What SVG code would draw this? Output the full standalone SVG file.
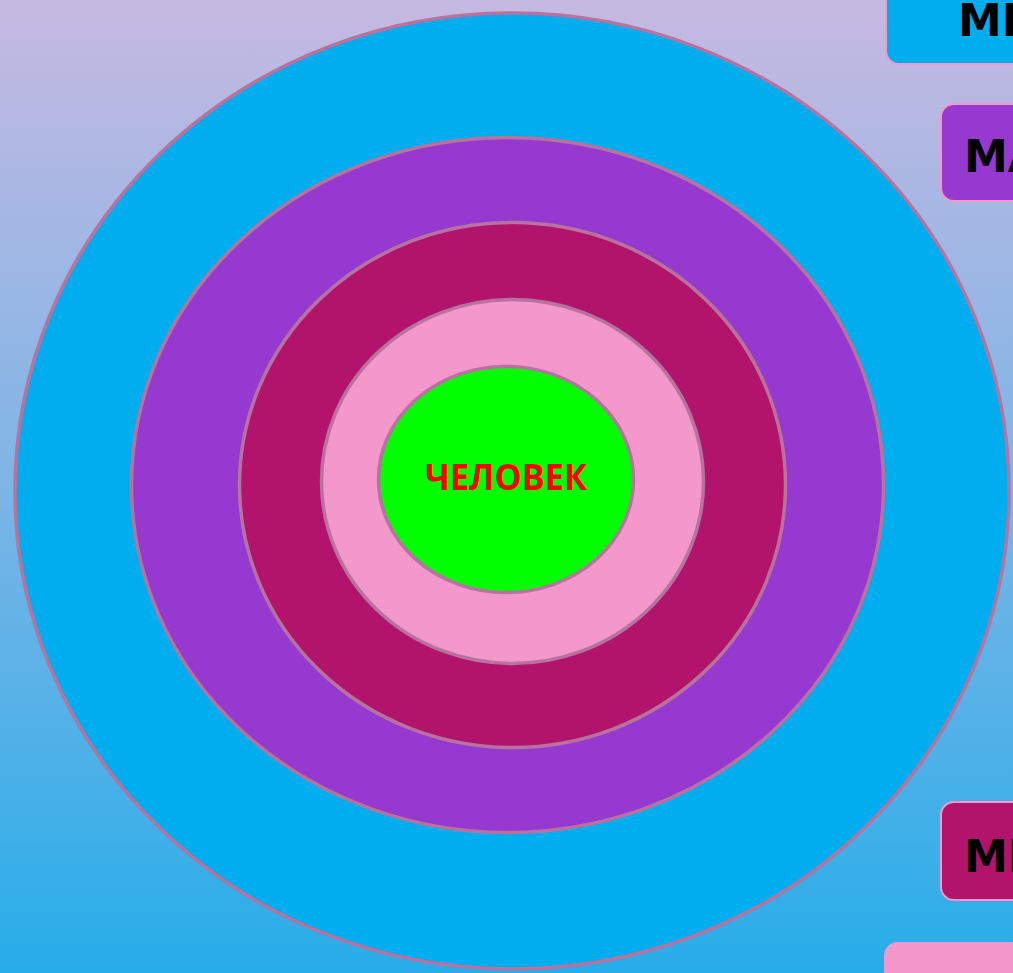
<svg xmlns="http://www.w3.org/2000/svg" width="1013" height="973" viewBox="0 0 1013 973">
<defs>
<linearGradient id="bg" x1="0" y1="0" x2="0" y2="1">
<stop offset="0" stop-color="#c6b9e1"/>
<stop offset="0.5" stop-color="#7cb5e6"/>
<stop offset="1" stop-color="#27ade9"/>
</linearGradient>
</defs>
<style>
.ring{stroke:#b8729f;stroke-width:3.5}
.box{stroke:#f497cb;stroke-width:2}
.lbl{font-family:"DejaVu Sans","Liberation Sans",sans-serif;font-weight:bold;font-size:44px;fill:#000}
.core{font-family:"Open Sans","Noto Sans",sans-serif;font-weight:bold;font-size:35px;fill:#ff0000}
</style>
<rect width="1013" height="973" fill="url(#bg)"/>
<g id="ring-outer"><ellipse class="ring" cx="512" cy="491" rx="497" ry="478" fill="#00aeef"/></g>
<g id="ring-2"><ellipse class="ring" cx="507.5" cy="485" rx="376" ry="347.5" fill="#9639d0"/></g>
<g id="ring-3"><ellipse class="ring" cx="512.5" cy="485" rx="273" ry="262.5" fill="#b2136b"/></g>
<g id="ring-4"><ellipse class="ring" cx="512.5" cy="481.5" rx="191" ry="182" fill="#f497cb"/></g>
<g id="core"><ellipse class="ring" cx="506" cy="479.5" rx="127.5" ry="113" fill="#00ff00"/>
<text class="core" x="425" y="490" textLength="162" lengthAdjust="spacingAndGlyphs">ЧЕЛОВЕК</text></g>
<g id="box-1"><rect class="box" x="886" y="-30" width="160" height="94" rx="13" fill="#00aeef"/><text class="lbl" x="958" y="36">МЕ</text></g>
<g id="box-2"><rect class="box" x="941" y="104" width="110" height="97" rx="13" fill="#9639d0"/><text class="lbl" x="964" y="172">МА</text></g>
<g id="box-3"><rect class="box" x="941" y="802" width="110" height="98" rx="13" fill="#b2136b"/><text class="lbl" x="964" y="872">МЕ</text></g>
<g id="box-4"><rect class="box" x="885" y="943" width="160" height="80" rx="13" fill="#f497cb"/></g>
<g id="connectors"/>
</svg>
